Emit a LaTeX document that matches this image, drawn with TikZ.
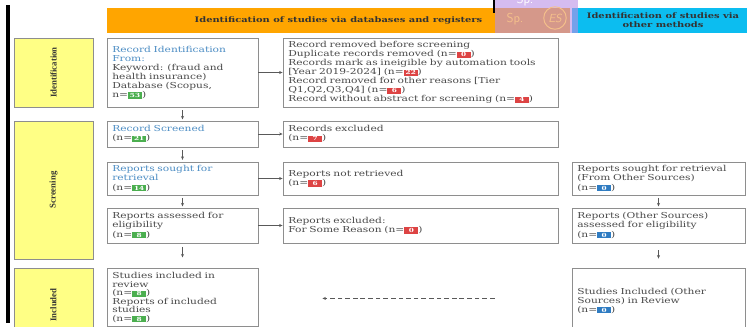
\documentclass[tikz,border=0pt]{standalone}
\usepackage{fontspec}
\setmainfont{DejaVu Serif}[FakeStretch=1.3]
\newfontfamily\sidefont{Liberation Serif}
\usetikzlibrary{positioning,arrows.meta}

\definecolor{hdrorange}{HTML}{FFA500}
\definecolor{hdrcyan}{HTML}{0CBDF0}
\definecolor{sideyellow}{HTML}{FFFF85}
\definecolor{boxgray}{HTML}{8E8E8E}
\definecolor{txtgray}{HTML}{4A4A4A}
\definecolor{txtblue}{HTML}{4C8DC4}
\definecolor{nGreen}{HTML}{4CAF50}
\definecolor{nRed}{HTML}{DD4444}
\definecolor{nBlue}{HTML}{2F7CC2}
\definecolor{overWhite}{HTML}{D5BCF0}
\definecolor{overOrange}{HTML}{D5988A}
\definecolor{overCyan}{HTML}{74A1EA}
\definecolor{overText}{HTML}{F5C08A}

\newcommand{\nbadge}[2]{{\setlength{\fboxsep}{0.8pt}\colorbox{#1}{\makebox[0.36cm]{\fontsize{4.8}{5}\selectfont\bfseries\color{white}#2}}}}

\begin{document}
\begin{tikzpicture}[x=0.03cm,y=-0.03cm,
    box/.style={draw=boxgray,line width=0.7pt,fill=white,text=txtgray,align=left,
      inner xsep=0.16cm,inner ysep=0.05cm,font=\fontsize{7}{7.7}\selectfont},
    leftbox/.style={box,minimum width=4.53cm,text width=4.21cm},
    midbox/.style={box,minimum width=8.25cm,text width=7.93cm},
    rightbox/.style={box,minimum width=5.19cm,text width=4.87cm},
    side/.style={draw=boxgray,line width=0.7pt,fill=sideyellow,rotate=90,minimum height=2.37cm,
      font=\sidefont\bfseries\fontsize{7.5}{8}\selectfont,text=black!80},
    header/.style={minimum height=0.75cm,inner sep=0pt,align=center,text=black!80,
      font=\bfseries\fontsize{6.5}{7.8}\selectfont},
    flow/.style={-{Stealth[length=3pt,width=2.6pt]},draw=black!65,line width=0.6pt},
  ]
  \useasboundingbox (0,0) rectangle (747,326);
  \clip (0,0) rectangle (747,326);

  % phase bar and headers
  \fill[black] (6,5) rectangle (10,323);
  \node[header,fill=hdrorange,minimum width=13.89cm] (hdrDb) at (338.5,20.5)
    {Identification of studies via databases and registers};
  \node[header,fill=hdrcyan,minimum width=5.4cm] (hdrOther) at (663,20.5)
    {Identification of studies via\\other methods};

  % side labels
  \node[side,minimum width=2.07cm] (sideId) at (53.5,72.5) {Identification};
  \node[side,minimum width=4.14cm] (sideScr) at (53.5,190) {Screening};
  \node[side,minimum width=2.22cm] (sideInc) at (53.5,305) {Included};

  % databases and registers
  \node[leftbox,minimum height=2.07cm] (ident) at (182.5,72.5)
    {\textcolor{txtblue}{Record Identification}\\\textcolor{txtblue}{From:}\\Keyword: (fraud and\\health insurance)\\Database (Scopus,\\n=\nbadge{nGreen}{53})};
  \node[midbox,minimum height=2.07cm] (removed) at (420.5,72.5)
    {Record removed before screening\\Duplicate records removed (n=\nbadge{nRed}{0})\\Records mark as ineigible by automation tools\\{[}Year 2019-2024] (n=\nbadge{nRed}{22})\\Record removed for other reasons [Tier\\Q1,Q2,Q3,Q4] (n=\nbadge{nRed}{6})\\Record without abstract for screening (n=\nbadge{nRed}{4})};

  \node[leftbox,minimum height=0.78cm] (screened) at (182.5,134)
    {\textcolor{txtblue}{Record Screened}\\(n=\nbadge{nGreen}{21})};
  \node[midbox,minimum height=0.78cm] (excluded) at (420.5,134)
    {Records excluded\\(n=\nbadge{nRed}{7})};

  \node[leftbox,minimum height=0.99cm] (sought) at (182.5,178.5)
    {\textcolor{txtblue}{Reports sought for}\\\textcolor{txtblue}{retrieval}\\(n=\nbadge{nGreen}{14})};
  \node[midbox,minimum height=0.99cm] (notRetr) at (420.5,178.5)
    {Reports not retrieved\\(n=\nbadge{nRed}{6})};

  \node[leftbox,minimum height=1.05cm] (assessed) at (182.5,225.5)
    {Reports assessed for\\eligibility\\(n=\nbadge{nGreen}{8})};
  \node[midbox,minimum height=1.05cm] (repExcl) at (420.5,225.5)
    {Reports excluded:\\For Some Reason (n=\nbadge{nRed}{0})};

  \node[leftbox,anchor=north,inner ysep=0.12cm,font=\fontsize{7}{7.3}\selectfont] (studies) at (182.5,268)
    {Studies included in\\review\\(n=\nbadge{nGreen}{8})\\Reports of included\\studies\\(n=\nbadge{nGreen}{8})};

  % other methods
  \node[rightbox,minimum height=0.99cm] (soughtOther) at (658.5,178.5)
    {Reports sought for retrieval\\(From Other Sources)\\(n=\nbadge{nBlue}{0})};
  \node[rightbox,minimum height=1.05cm] (assessedOther) at (658.5,225.5)
    {Reports (Other Sources)\\assessed for eligibility\\(n=\nbadge{nBlue}{0})};
  \node[rightbox,anchor=north,minimum height=1.95cm] (studOther) at (658.5,268)
    {Studies Included (Other\\Sources) in Review\\(n=\nbadge{nBlue}{0})};

  % connectors
  \draw[flow] (ident) -- (removed);
  \draw[flow] (screened) -- (excluded);
  \draw[flow] (sought) -- (notRetr);
  \draw[flow] (assessed) -- (repExcl);
  \draw[flow,shorten <=2.5pt,shorten >=1pt] (ident) -- (screened);
  \draw[flow,shorten <=2.5pt,shorten >=1.5pt] (screened) -- (sought);
  \draw[flow,shorten <=2pt,shorten >=1pt] (sought) -- (assessed);
  \draw[flow,shorten <=3pt,shorten >=9pt] (assessed) -- (studies);
  \draw[flow,shorten <=2pt,shorten >=1pt] (soughtOther) -- (assessedOther);
  \draw[flow,shorten <=6pt,shorten >=8pt] (assessedOther) -- (studOther);
  \draw[flow,dash pattern=on 4pt off 2.5pt,shorten <=2.31cm,shorten >=1.92cm]
    ([yshift=0.075cm]studOther.west) -- ([yshift=0.075cm]studOther.west -| studies.east);

  % screen overlay
  \draw[black,line width=1.2pt] (494,0) -- (494,13);
  \fill[overWhite] (495,-3) rectangle (578,8);
  \fill[overOrange] (495,8) rectangle (570,33);
  \fill[overWhite] (570,8) rectangle (572,33);
  \fill[overCyan] (572,8) rectangle (578,33);
  \node[font=\sffamily\fontsize{11}{11}\selectfont,text=white] (spTop) at (525,0) {Sp.};
  \node[font=\sffamily\fontsize{11}{11}\selectfont,text=overText] (spLow) at (515,19) {Sp.};
  \node[circle,draw=overText,line width=0.8pt,inner sep=2pt,font=\sffamily\itshape\fontsize{10}{10}\selectfont,
    text=overText] (spLogo) at (555,18) {ES};
\end{tikzpicture}
\end{document}
